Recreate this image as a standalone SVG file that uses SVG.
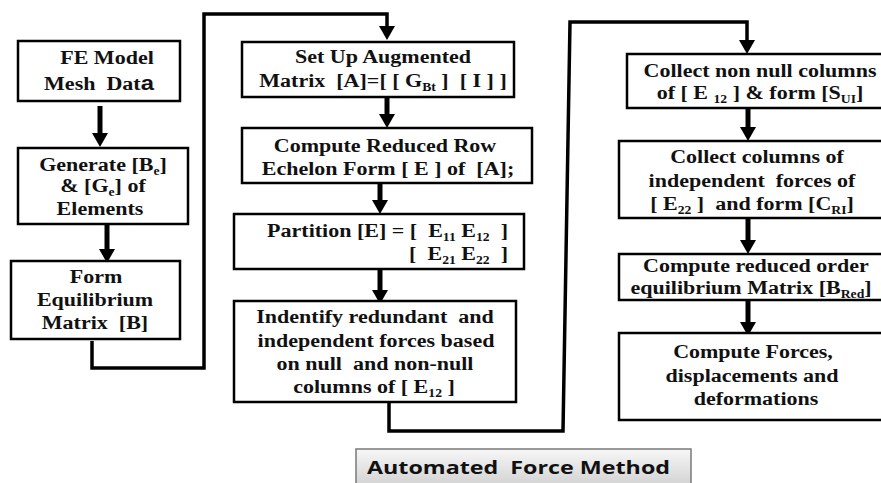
<svg xmlns="http://www.w3.org/2000/svg" width="881" height="483" viewBox="0 0 881 483">
  <defs>
    <style>
      .box { fill: #ffffff; stroke: #000000; stroke-width: 2.5; }
      .wire { fill: none; stroke: #000000; stroke-width: 3.5; stroke-linejoin: miter; }
      .shaft { stroke: #000000; stroke-width: 5; }
      .t { font-family: "Liberation Serif", "Times New Roman", "DejaVu Serif", serif; font-weight: bold; font-size: 18.5px; fill: #111111; text-anchor: middle; white-space: pre; }
      .e { text-anchor: end; }
      .sub { font-size: 11.5px; }
      .lbl { font-family: "Open Sans", "Liberation Sans", sans-serif; font-weight: bold; font-size: 17px; fill: #111111; white-space: pre; }
    </style>
    <linearGradient id="lblFill" x1="0" y1="0" x2="0" y2="1">
      <stop offset="0" stop-color="#f7f7f7"/>
      <stop offset="1" stop-color="#cfcfcf"/>
    </linearGradient>
    <!-- solid arrowhead, drawn at the tip position -->
    <polygon id="head" points="-8,-14 8,-14 0,0" fill="#000000"/>
  </defs>

  <rect width="881" height="483" fill="#ffffff"/>

  <!-- connectors -->
  <g id="connectors">
    <line class="shaft" x1="100" y1="106" x2="100" y2="134"/>
    <use href="#head" x="100" y="147"/>

    <line class="shaft" x1="107" y1="224" x2="107" y2="250"/>
    <use href="#head" x="107" y="263"/>

    <polyline class="wire" points="92,341 92,368 204,368 204,14 387,14 387,26"/>
    <use href="#head" x="387" y="40"/>

    <line class="shaft" x1="387" y1="97" x2="387" y2="114"/>
    <use href="#head" x="387" y="128"/>

    <line class="shaft" x1="380" y1="183" x2="380" y2="200"/>
    <use href="#head" x="380" y="214"/>

    <line class="shaft" x1="380" y1="269" x2="380" y2="290"/>
    <use href="#head" x="380" y="304"/>

    <polyline class="wire" points="389,402 389,431 563,431 570,22 747,22 747,40"/>
    <use href="#head" x="747" y="54"/>

    <line class="shaft" x1="748" y1="108" x2="748" y2="127"/>
    <use href="#head" x="748" y="141"/>

    <line class="shaft" x1="748" y1="218" x2="748" y2="240"/>
    <use href="#head" x="748" y="254"/>

    <line class="shaft" x1="748" y1="300" x2="748" y2="322"/>
    <use href="#head" x="748" y="336"/>
  </g>

  <!-- left column -->
  <g id="fe-model">
    <rect class="box" x="18" y="41" width="162" height="60"/>
    <text class="t" transform="translate(107,64) scale(1.19,1)">FE Model</text>
    <text class="t" transform="translate(99,90) scale(1.19,1)">Mesh  Dat<tspan font-family="Liberation Sans, sans-serif" font-size="20px">a</tspan></text>
  </g>

  <g id="generate">
    <rect class="box" x="18" y="148" width="170" height="76"/>
    <text class="t" transform="translate(103,171) scale(1.19,1)">Generate [B<tspan class="sub" dy="3.5">e</tspan><tspan dy="-3.5">]</tspan></text>
    <text class="t" transform="translate(103,192) scale(1.19,1)">&amp; [G<tspan class="sub" dy="3.5">e</tspan><tspan dy="-3.5">] of</tspan></text>
    <text class="t" transform="translate(100,215) scale(1.19,1)">Elements</text>
  </g>

  <g id="equilibrium">
    <rect class="box" x="11" y="261" width="169" height="78"/>
    <text class="t" transform="translate(96,283) scale(1.19,1)">Form</text>
    <text class="t" transform="translate(95,306) scale(1.19,1)">Equilibrium</text>
    <text class="t" transform="translate(95,329) scale(1.19,1)">Matrix  [B]</text>
  </g>

  <!-- middle column -->
  <g id="augmented">
    <rect class="box" x="242" y="42" width="272" height="55"/>
    <text class="t" transform="translate(383,63) scale(1.19,1)">Set Up Augmented</text>
    <text class="t" transform="translate(383,87) scale(1.19,1)">Matrix  [A]=[ [ G<tspan class="sub" dy="4">Bt</tspan><tspan dy="-4"> ]  [ I ] ]</tspan></text>
  </g>

  <g id="rref">
    <rect class="box" x="242" y="128" width="290" height="55"/>
    <text class="t" transform="translate(385,152) scale(1.19,1)">Compute Reduced Row</text>
    <text class="t" transform="translate(388,175) scale(1.19,1)">Echelon Form [ E ] of  [A];</text>
  </g>

  <g id="partition">
    <rect class="box" x="234" y="214" width="290" height="55"/>
    <text class="t e" transform="translate(508,237) scale(1.19,1)">Partition [E] = [  E<tspan class="sub" dy="4">11</tspan><tspan dy="-4"> E</tspan><tspan class="sub" dy="4">12</tspan><tspan dy="-4">  ]</tspan></text>
    <text class="t e" transform="translate(508,260) scale(1.19,1)">[  E<tspan class="sub" dy="4">21</tspan><tspan dy="-4"> E</tspan><tspan class="sub" dy="4">22</tspan><tspan dy="-4">  ]</tspan></text>
  </g>

  <g id="identify">
    <rect class="box" x="234" y="301" width="282" height="101"/>
    <text class="t" transform="translate(375,323) scale(1.19,1)">Indentify redundant  and</text>
    <text class="t" transform="translate(376,347) scale(1.19,1)">independent forces based</text>
    <text class="t" transform="translate(375,370) scale(1.19,1)">on null  and non-null</text>
    <text class="t" transform="translate(374,393) scale(1.19,1)">columns of [ E<tspan class="sub" dy="4">12</tspan><tspan dy="-4"> ]</tspan></text>
  </g>

  <!-- right column -->
  <g id="collect-nonnull">
    <rect class="box" x="627" y="54" width="270" height="54"/>
    <text class="t" transform="translate(760,77) scale(1.19,1)">Collect non null columns</text>
    <text class="t" transform="translate(760,99) scale(1.19,1)">of [ E <tspan class="sub" dy="4">12</tspan><tspan dy="-4"> ] &amp; form [S</tspan><tspan class="sub" dy="4">UI</tspan><tspan dy="-4">]</tspan></text>
  </g>

  <g id="collect-independent">
    <rect class="box" x="619" y="141" width="278" height="77"/>
    <text class="t" transform="translate(757,163) scale(1.19,1)">Collect columns of</text>
    <text class="t" transform="translate(752,187) scale(1.19,1)">independent  forces of</text>
    <text class="t" transform="translate(752,210) scale(1.19,1)">[ E<tspan class="sub" dy="4">22</tspan><tspan dy="-4"> ]  and form [C</tspan><tspan class="sub" dy="4">RI</tspan><tspan dy="-4">]</tspan></text>
  </g>

  <g id="reduced-order">
    <rect class="box" x="619" y="254" width="278" height="46"/>
    <text class="t" transform="translate(756,272) scale(1.19,1)">Compute reduced order</text>
    <text class="t" transform="translate(751,294) scale(1.19,1)">equilibrium Matrix [B<tspan class="sub" dy="4">Red</tspan><tspan dy="-4">]</tspan></text>
  </g>

  <g id="forces">
    <rect class="box" x="619" y="333" width="278" height="87"/>
    <text class="t" transform="translate(753,358) scale(1.19,1)">Compute Forces,</text>
    <text class="t" transform="translate(752,382) scale(1.19,1)">displacements and</text>
    <text class="t" transform="translate(756,405) scale(1.19,1)">deformations</text>
  </g>

  <!-- caption -->
  <g id="caption">
    <rect x="356" y="449" width="335" height="40" fill="url(#lblFill)" stroke="#7a7a7a" stroke-width="1.5"/>
    <text class="lbl" x="367" y="474" textLength="303" lengthAdjust="spacingAndGlyphs">Automated  Force Method</text>
  </g>
</svg>
